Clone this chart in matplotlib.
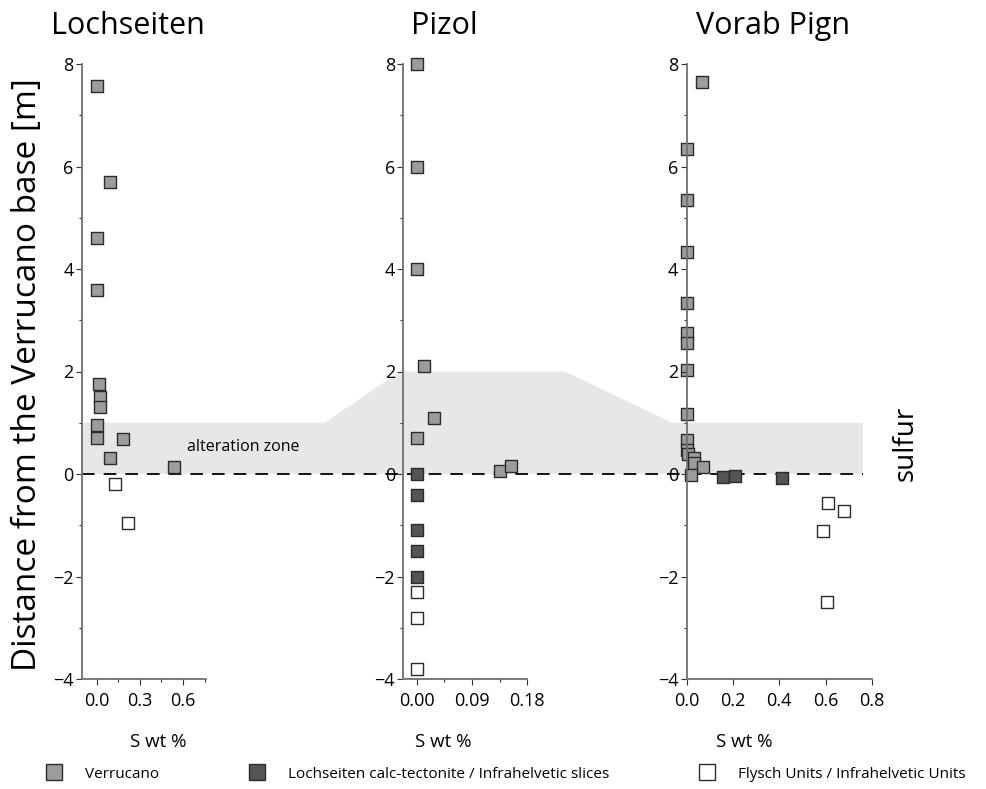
import matplotlib
matplotlib.use('Agg')
import matplotlib.pyplot as plt
from matplotlib.lines import Line2D
from matplotlib.patches import Polygon
from matplotlib.ticker import MultipleLocator
import matplotlib.transforms as mtransforms

plt.rcParams['font.family'] = ['Open Sans', 'DejaVu Sans']

W, H = 987, 789

# --- Sulfur content (S wt %) vs distance from the Verrucano base [m] ---
loch_verr_s = [0.0, 0.09, 0.0, 0.0, 0.015, 0.025, 0.02, 0.0, 0.005, 0.18, 0.095, 0.54]
loch_verr_d = [7.58, 5.7, 4.6, 3.6, 1.75, 1.51, 1.3, 0.95, 0.71, 0.68, 0.31, 0.14]
loch_fly_s = [0.13, 0.22]
loch_fly_d = [-0.2, -0.95]

pizol_verr_s = [0.0, 0.0, 0.0, 0.012, 0.028, 0.0, 0.135, 0.154]
pizol_verr_d = [8.0, 6.0, 4.0, 2.1, 1.1, 0.7, 0.05, 0.15]
pizol_calc_s = [0.0, 0.0, 0.0, 0.0, 0.0]
pizol_calc_d = [0.0, -0.4, -1.1, -1.5, -2.0]
pizol_fly_s = [0.0, 0.0, 0.0]
pizol_fly_d = [-2.3, -2.8, -3.8]

vorab_verr_s = [0.066, 0.0, 0.0, 0.0, 0.0, 0.0, 0.0, 0.0, 0.0, 0.0, 0.003, 0.005, 0.03, 0.03, 0.07, 0.02]
vorab_verr_d = [7.65, 6.34, 5.34, 4.34, 3.33, 2.75, 2.55, 2.03, 1.18, 0.66, 0.47, 0.40, 0.31, 0.21, 0.14, -0.02]
vorab_calc_s = [0.158, 0.21, 0.41]
vorab_calc_d = [-0.05, -0.03, -0.07]
vorab_fly_s = [0.61, 0.68, 0.59, 0.605]
vorab_fly_d = [-0.56, -0.72, -1.11, -2.5]

sections = ['Lochseiten', 'Pizol', 'Vorab Pign']
units = ['Verrucano', 'Lochseiten calc-tectonite / Infrahelvetic slices',
         'Flysch Units / Infrahelvetic Units']
unit_colors = ['#9c9c9c', '#555555', 'white']

# alteration zone thickness per section (m)
zone_top = [1.0, 2.0, 1.0]

fig = plt.figure(figsize=(W / 100, H / 100), dpi=100)


def fx(px):
    return px / W


def fy(py):
    return 1 - py / H


def make_ax(left, right, xlim, xticks, xlabels, xminor):
    ax = fig.add_axes([fx(left), fy(679), fx(right - left), (679 - 64) / H])
    ax.set_facecolor('none')
    ax.set_xlim(*xlim)
    ax.set_ylim(-4, 8)
    ax.set_xticks(xticks)
    ax.set_xticklabels(xlabels)
    ax.xaxis.set_minor_locator(MultipleLocator(xminor))
    ax.set_yticks([-4, -2, 0, 2, 4, 6, 8])
    ax.yaxis.set_minor_locator(MultipleLocator(1))
    for s in ['top', 'right']:
        ax.spines[s].set_visible(False)
    for s in ['left', 'bottom']:
        ax.spines[s].set_color('#707070')
        ax.spines[s].set_linewidth(1.3)
    ax.tick_params(which='both', direction='out', color='#333333', width=0.8,
                   labelsize=13, pad=2)
    ax.tick_params(which='major', length=4)
    ax.tick_params(which='minor', length=2.5)
    ax.tick_params(axis='x', pad=5)
    return ax


ax1 = make_ax(82, 206, (-0.102, 0.76), [0.0, 0.3, 0.6], ['0.0', '0.3', '0.6'], 0.15)
ax2 = make_ax(403.3, 527.3, (-0.0218, 0.18), [0.0, 0.09, 0.18], ['0.00', '0.09', '0.18'], 0.045)
ax3 = make_ax(686.7, 872, (0.0, 0.8), [0.0, 0.2, 0.4, 0.6, 0.8], ['0.0', '0.2', '0.4', '0.6', '0.8'], 0.1)
ax3.xaxis.set_minor_locator(MultipleLocator(0.2))


def pts(ax, s, d, c):
    ax.scatter(s, d, marker='s', s=78, facecolor=c, edgecolor='#2b2b2b',
               linewidth=1.0, clip_on=False, zorder=1)


pts(ax1, loch_verr_s, loch_verr_d, unit_colors[0])
pts(ax1, loch_fly_s, loch_fly_d, unit_colors[2])
pts(ax2, pizol_verr_s, pizol_verr_d, unit_colors[0])
pts(ax2, pizol_calc_s, pizol_calc_d, unit_colors[1])
pts(ax2, pizol_fly_s, pizol_fly_d, unit_colors[2])
pts(ax3, vorab_verr_s, vorab_verr_d, unit_colors[0])
pts(ax3, vorab_calc_s, vorab_calc_d, unit_colors[1])
pts(ax3, vorab_fly_s, vorab_fly_d, unit_colors[2])

# shaded alteration zone and the Verrucano base, across all three sections
tr = mtransforms.blended_transform_factory(fig.transFigure, ax1.transData)
zone_x = [fx(82), fx(82), fx(325), fx(400), fx(565), fx(672), fx(863), fx(863)]
zone_y = [0, zone_top[0], zone_top[0], zone_top[1], zone_top[1], zone_top[2], zone_top[2], 0]
fig.add_artist(Polygon(list(zip(zone_x, zone_y)), closed=True, facecolor='#e6e7e7',
                       edgecolor='none', transform=tr, zorder=-2))
fig.add_artist(Line2D([fx(82), fx(863)], [0, 0], color='black', lw=1.3,
                      dashes=(7, 5), transform=tr, zorder=-1))
ax1.text(fx(187), 0.53, 'alteration zone', transform=tr, fontsize=11.5,
         va='center', ha='left')

# titles and axis labels
for name, cx in zip(sections, [128, 444, 773]):
    fig.text(fx(cx), fy(26), name, fontsize=22, ha='center', va='center')
for cx in [158, 443, 744]:
    fig.text(fx(cx), fy(742), 'S wt %', fontsize=13.5, ha='center', va='center')
fig.text(fx(28), fy(375), 'Distance from the Verrucano base [m]', fontsize=24,
         rotation=90, ha='center', va='center')
fig.text(fx(906), fy(443), 'sulfur', fontsize=20, rotation=90, ha='center', va='center')

handles = [Line2D([], [], ls='none', marker='s', markersize=11, markerfacecolor=c,
                  markeredgecolor='#2b2b2b', markeredgewidth=1.0) for c in unit_colors]
fig.legend(handles, units, loc='center', bbox_to_anchor=(fx(506), fy(774)), ncol=3,
           frameon=False, fontsize=11, handlelength=1.0, handletextpad=1.55,
           columnspacing=5.9)

plt.savefig('out.png', dpi=100)
